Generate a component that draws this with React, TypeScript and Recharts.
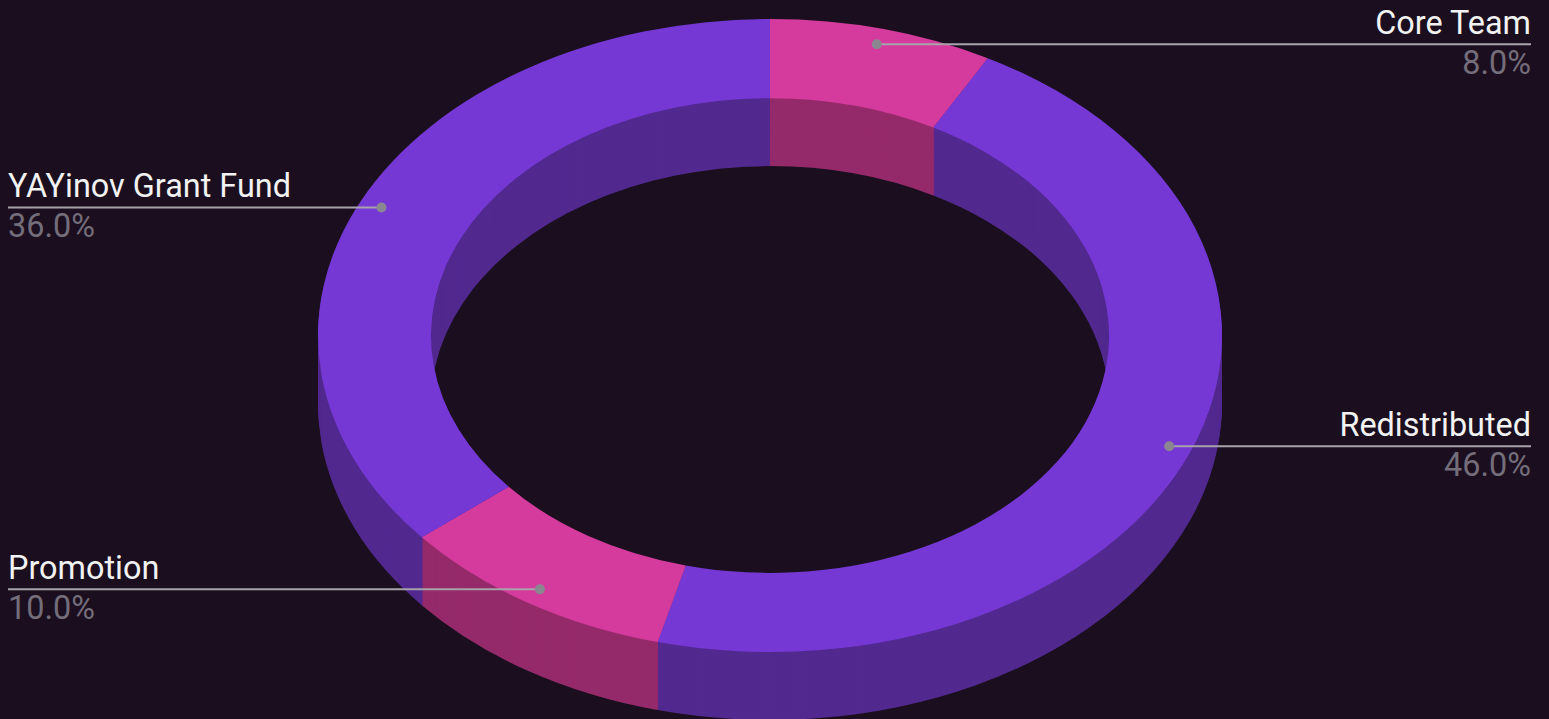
import { Cell, Pie, PieChart } from 'recharts'

// 3d ring: a flat recharts donut squashed with scaleY, walls drawn as stacked darker copies

const categories = ['Core Team', 'Redistributed', 'Promotion', 'YAYinov Grant Fund']
const shares = [8, 46, 10, 36]
const topColors = ['#d53a9d', '#7538d5', '#d53a9d', '#7538d5']
const sideColors = ['#952a6a', '#52298f', '#952a6a', '#52298f']

const data = categories.map((name, i) => ({ name, value: shares[i] }))

const PAGE_W = 1549
const PAGE_H = 719
const TILT = 316.5 / 452
const CX = 770
const CY = 335.5 / TILT
const OUTER = 452
const INNER = 339
const DEPTH = 68 / TILT
const STEP = 2 / TILT
const layers = Array.from({ length: Math.ceil(DEPTH / STEP) }, (_, i) => DEPTH - i * STEP)

function renderLabel(props: any) {
  const { cx, cy, midAngle, outerRadius, index } = props
  const name = props.name ?? props.payload?.name
  const value = Number(props.value ?? props.payload?.value)
  const rad = (-midAngle * Math.PI) / 180
  const x = cx + outerRadius * 0.95 * Math.cos(rad)
  const y = cy + outerRadius * 0.95 * Math.sin(rad)
  const right = x > cx
  const end = right ? 1531 - x : 8 - x
  const anchor = right ? 'end' : 'start'
  return (
    <g key={`lbl-${index}`} transform={`translate(${x},${y}) scale(1,${1 / TILT})`}>
      <line x1={0} y1={0} x2={end} y2={0} stroke="#a7a3ab" strokeWidth={2} />
      <circle r={5} fill="#8b8790" />
      <text x={end} y={-10} textAnchor={anchor} fill="#f2f2f2" fontSize={32.4} fontFamily="Roboto, sans-serif">
        {name}
      </text>
      <text x={end} y={30} textAnchor={anchor} fill="#746d7a" fontSize={32.4} fontFamily="Roboto, sans-serif">
        {value.toFixed(1)}%
      </text>
    </g>
  )
}

export default function App() {
  return (
    <div
      style={{
        position: 'absolute',
        left: 0,
        top: 0,
        width: PAGE_W,
        height: PAGE_H,
        background: '#1b0f1f',
        overflow: 'hidden',
      }}
    >
      <div
        style={{
          position: 'absolute',
          left: 0,
          top: 0,
          width: PAGE_W,
          height: PAGE_H / TILT,
          transform: `scaleY(${TILT})`,
          transformOrigin: 'top left',
        }}
      >
        <PieChart
          width={PAGE_W}
          height={Math.ceil(PAGE_H / TILT)}
          margin={{ top: 0, right: 0, bottom: 0, left: 0 }}
        >
          {layers.map((off) => (
            <Pie
              key={`wall-${off.toFixed(2)}`}
              data={data}
              dataKey="value"
              nameKey="name"
              cx={CX}
              cy={CY + off}
              innerRadius={INNER}
              outerRadius={OUTER}
              startAngle={90}
              endAngle={-270}
              isAnimationActive={false}
              label={false}
              labelLine={false}
            >
              {data.map((d, i) => (
                <Cell key={d.name} fill={sideColors[i]} stroke="none" />
              ))}
            </Pie>
          ))}
          <Pie
            data={data}
            dataKey="value"
            nameKey="name"
            cx={CX}
            cy={CY}
            innerRadius={INNER}
            outerRadius={OUTER}
            startAngle={90}
            endAngle={-270}
            isAnimationActive={false}
            label={renderLabel}
            labelLine={false}
          >
            {data.map((d, i) => (
              <Cell key={d.name} fill={topColors[i]} stroke="none" />
            ))}
          </Pie>
        </PieChart>
      </div>
    </div>
  )
}
